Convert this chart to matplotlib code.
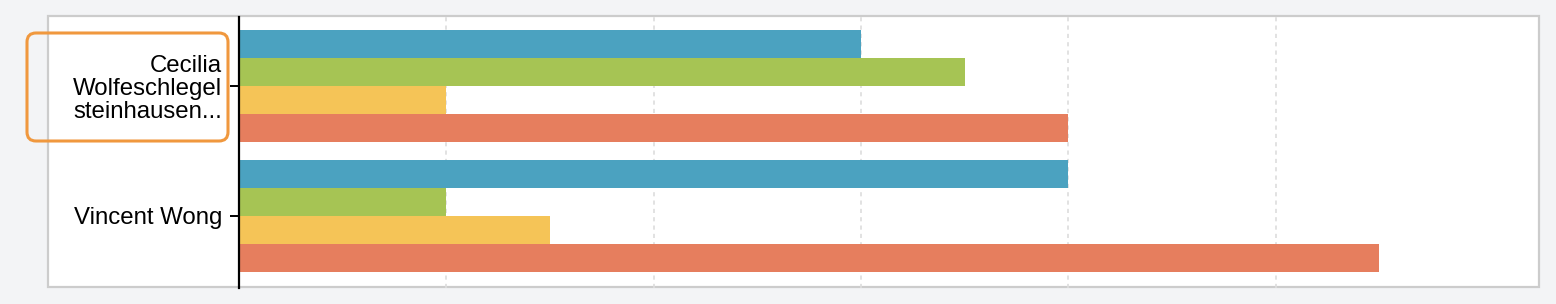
import matplotlib
matplotlib.use("Agg")
import matplotlib.pyplot as plt
from matplotlib.patches import Rectangle, FancyBboxPatch
from matplotlib.transforms import IdentityTransform
import numpy as np

# ---- data ----
names = ["Cecilia\nWolfeschlegel\nsteinhausen...", "Vincent Wong"]
series_a = [3.0, 4.0]   # blue
series_b = [3.5, 1.0]   # green
series_c = [1.0, 1.5]   # yellow
series_d = [4.0, 5.5]   # red
colors = ["#4ba2c0", "#a6c454", "#f5c457", "#e67e5e"]
grid_ticks = [1, 2, 3, 4, 5]
x_max = 6.27

# ---- figure ----
W, H = 1556, 304
fig = plt.figure(figsize=(W / 100, H / 100), dpi=100, facecolor="#f3f4f6")

# white panel with grey border
panel = Rectangle((48 / W, 1 - 287 / H), (1539 - 48) / W, (287 - 16) / H,
                  transform=fig.transFigure, facecolor="white",
                  edgecolor="#cccccc", linewidth=1.6, zorder=-5)
fig.patches.append(panel)

ax = fig.add_axes([239 / W, 1 - 288 / H, (1539 - 239) / W, (288 - 17) / H])
ax.set_facecolor("none")
ax.set_zorder(1)

y = np.arange(len(names))
bh = 28 / 130
all_series = [series_a, series_b, series_c, series_d]
for i, (vals, c) in enumerate(zip(all_series, colors)):
    ax.barh(y + (i - 1.5) * bh, vals, height=bh, color=c, zorder=2)

ax.set_xlim(0, x_max)
ax.set_ylim(1.554, -0.531)

ax.set_xticks(grid_ticks)
ax.xaxis.grid(True, color="#dddddd", linestyle=(0, (2.5, 2.5)), linewidth=1.2, zorder=1)
ax.tick_params(axis="x", length=0, labelbottom=False)
ax.set_axisbelow(True)

ax.set_yticks(y)
ax.set_yticklabels(names, fontsize=17.3, family="Liberation Sans", linespacing=1.05)
ax.tick_params(axis="y", length=6.5, width=1.4, pad=5.5, color="black")

for s in ["top", "right", "bottom"]:
    ax.spines[s].set_visible(False)
ax.spines["left"].set_linewidth(1.6)
ax.spines["left"].set_zorder(3)

# orange highlight around first label (pixel coords, origin bottom-left)
box = FancyBboxPatch((27, H - 141), 228 - 27, 141 - 33,
                     boxstyle="round,pad=0,rounding_size=9",
                     transform=IdentityTransform(), facecolor="none",
                     edgecolor="#f0983e", linewidth=2.2, zorder=5)
fig.patches.append(box)

plt.savefig("out.png", dpi=100, facecolor=fig.get_facecolor())
